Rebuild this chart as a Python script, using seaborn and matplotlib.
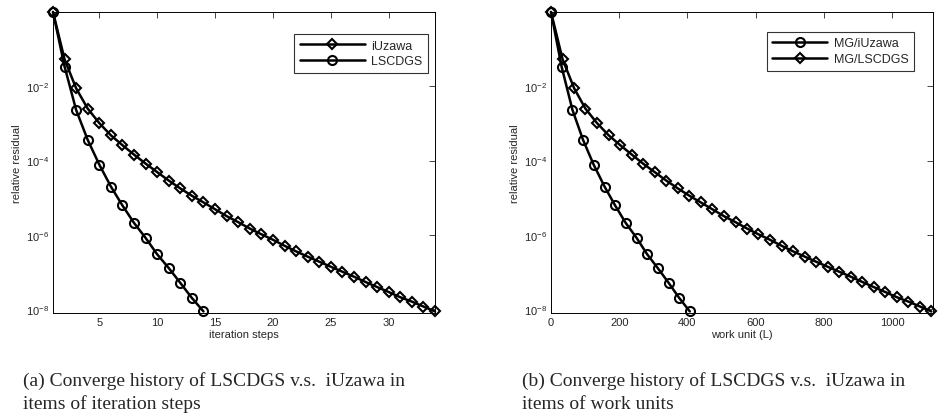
import numpy as np
import pandas as pd
import matplotlib
matplotlib.use("Agg")
import matplotlib.pyplot as plt
import seaborn as sns

# residuals
res_iuzawa = [1.0, 5.3e-2, 8.8e-3, 2.5e-3, 1.02e-3, 4.8e-4, 2.6e-4, 1.45e-4, 8.3e-5, 4.9e-5,
              2.9e-5, 1.78e-5, 1.13e-5, 7.5e-6, 4.9e-6, 3.2e-6, 2.2e-6, 1.48e-6, 1.04e-6, 7.4e-7,
              5.1e-7, 3.6e-7, 2.6e-7, 1.9e-7, 1.39e-7, 1.02e-7, 7.5e-8, 5.4e-8, 3.95e-8, 2.9e-8,
              2.1e-8, 1.6e-8, 1.18e-8, 8.7e-9]
res_lscdgs = [1.0, 3.4e-2, 2.3e-3, 3.6e-4, 7.8e-5, 2.0e-5, 6.2e-6, 2.1e-6, 8.3e-7, 3.0e-7,
              1.28e-7, 5.1e-8, 2.0e-8, 8.7e-9]

steps_iuzawa = list(range(1, 35))
steps_lscdgs = list(range(1, 15))

# work units (right panel)
work_diamond = [0, 34, 68, 101, 135, 169, 203, 237, 270, 304, 338, 372, 406, 439, 473, 507, 541,
                575, 608, 642, 676, 710, 744, 777, 811, 845, 879, 913, 946, 980, 1014, 1048, 1082, 1115]
work_circle = [0, 31, 63, 94, 125, 157, 188, 219, 251, 282, 313, 345, 376, 407]

sns.set_style("white")
plt.rcParams['font.family'] = ['Liberation Sans', 'DejaVu Sans']

fig = plt.figure(figsize=(9.41, 4.14), dpi=100)
ax1 = fig.add_axes([53 / 941, 1 - 314 / 414, 382 / 941, 301 / 414])
ax2 = fig.add_axes([551 / 941, 1 - 314 / 414, 382 / 941, 301 / 414])

line_kw = dict(color='black', linewidth=1.8, markeredgewidth=1.5, clip_on=False,
               markerfacecolor='none', markeredgecolor='black')
dia = dict(marker='D', markersize=4.8)
circ = dict(marker='o', markersize=6.5)

sns.lineplot(x=steps_iuzawa, y=res_iuzawa, ax=ax1, label='iUzawa', **dia, **line_kw)
sns.lineplot(x=steps_lscdgs, y=res_lscdgs, ax=ax1, label='LSCDGS', **circ, **line_kw)

sns.lineplot(x=work_circle, y=res_lscdgs, ax=ax2, label='MG/iUzawa', **circ, **line_kw)
sns.lineplot(x=work_diamond, y=res_iuzawa, ax=ax2, label='MG/LSCDGS', **dia, **line_kw)

setups = [(ax1, 'iteration steps', (1, 34), (0.981, 0.927), 5.2),
          (ax2, 'work unit (L)', (0, 1120), (0.95, 0.934), 4.4)]
for ax, xl, xlim, anchor, hl in setups:
    ax.set_yscale('log')
    ax.set_ylim(7.9e-9, 1.0)
    ax.set_xlim(*xlim)
    ax.set_yticks([1e-2, 1e-4, 1e-6, 1e-8])
    ax.minorticks_off()
    ax.tick_params(direction='in', top=True, right=True, length=4, width=0.6, labelsize=8, pad=3)
    for s in ax.spines.values():
        s.set_linewidth(0.7)
        s.set_color('black')
    ax.set_xlabel(xl, fontsize=8, labelpad=1)
    ax.set_ylabel('relative residual', fontsize=8, labelpad=3)
    leg = ax.legend(loc='upper right', bbox_to_anchor=anchor, fontsize=9, frameon=True,
                    fancybox=False, edgecolor='black', handlelength=hl, handletextpad=0.5,
                    borderpad=0.45, labelspacing=0.3, borderaxespad=0)
    leg.get_frame().set_linewidth(0.8)

ax1.set_xticks([5, 10, 15, 20, 25, 30])
ax2.set_xticks([0, 200, 400, 600, 800, 1000])

cap = dict(fontsize=14, family=['Liberation Serif', 'DejaVu Serif'], va='baseline', ha='left')
fig.text(23 / 941, 1 - 386 / 414, '(a) Converge history of LSCDGS v.s.  iUzawa in', **cap)
fig.text(23 / 941, 1 - 409 / 414, 'items of iteration steps', **cap)
fig.text(522 / 941, 1 - 386 / 414, '(b) Converge history of LSCDGS v.s.  iUzawa in', **cap)
fig.text(522 / 941, 1 - 409 / 414, 'items of work units', **cap)

fig.savefig('out.png', dpi=100)
